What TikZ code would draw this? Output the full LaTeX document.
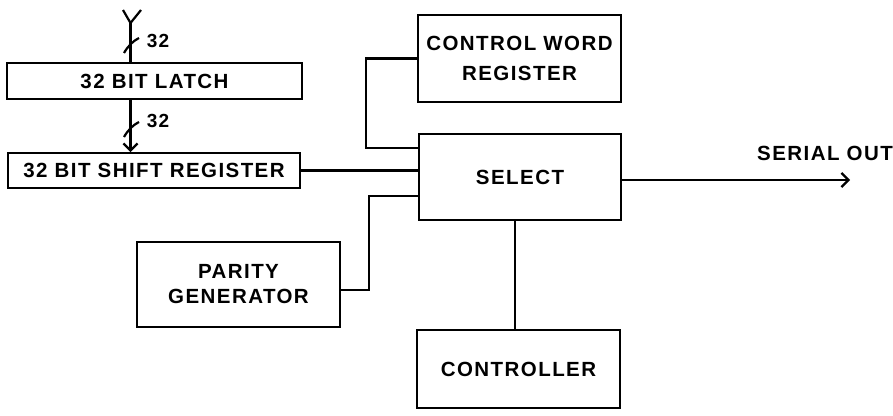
\documentclass[tikz,border=0pt]{standalone}
\usepackage{fontspec}
\setmainfont{Liberation Sans}[LetterSpace=7]
\usetikzlibrary{arrows.meta}
\begin{document}
\begin{tikzpicture}[x=1pt,y=-1pt,
  wire/.style={line width=2.2pt},
  blk/.style={draw,line width=2pt,minimum width=#1,inner sep=0pt,align=center,
    font=\fontsize{20.5}{27}\selectfont\bfseries},
  txt/.style={inner sep=0pt,font=\fontsize{20.5}{27}\selectfont\bfseries},
  small/.style={inner sep=0pt,font=\fontsize{19}{22}\selectfont\bfseries},
  barb/.style={-{Straight Barb[length=7pt,width=14pt,line width=2.2pt]}}]
\useasboundingbox (0,0) rectangle (893,415);

% blocks
\node[blk=295pt,minimum height=36pt] (latch) at (154.5,81) {32 BIT LATCH};
\node[blk=292pt,minimum height=35pt] (sr) at (154,170.5) {32 BIT SHIFT REGISTER};
\node[blk=203pt,minimum height=87pt,font=\fontsize{20.5}{30}\selectfont\bfseries]
  (cw) at (519.5,58.5) {CONTROL WORD\\REGISTER};
\node[blk=202pt,minimum height=86pt] (sel) at (520,177) {SELECT};
\node[blk=203pt,minimum height=85pt,font=\fontsize{20.5}{25}\selectfont\bfseries]
  (par) at (238.5,284.5) {PARITY\\GENERATOR};
\node[blk=203pt,minimum height=78pt] (ctl) at (518.5,369) {CONTROLLER};

% 32-bit input bus
\coordinate (fork) at (130.5,23);
\coordinate (armL) at (123,10);
\coordinate (armR) at (141,10);
\draw[wire,line join=round] (armL) -- (fork) -- (armR);
\draw[wire] (fork) -- (fork |- latch.north);
\draw[wire] (124,53) .. controls (128,46) and (133,41) .. (139,38);
\node[small] (w1) at (158,41) {32};

% latch to shift register
\draw[wire,barb] (latch.south -| fork) -- (sr.north -| fork);
\draw[wire] (124,137) .. controls (128,130) and (133,125) .. (139,122);
\node[small] (w2) at (158,121) {32};

% inputs of the selector
\draw[wire] (cw.west) -- ++(-51,0) |- ([yshift=29pt]sel.west);
\draw[wire] (sr.east) -- (sr.east -| sel.west);
\draw[wire] ([yshift=-5.5pt]par.east) -- ++(28,0) |- ([yshift=-19pt]sel.west);
\draw[wire] ([xshift=-5pt]sel.south) -- ([xshift=-3.5pt]ctl.north);

% serial output
\coordinate (out) at (850,180);
\draw[wire,barb] (sel.east |- out) -- (out);
\node[txt] (so) at (825,153) {SERIAL OUT};
\end{tikzpicture}
\end{document}
